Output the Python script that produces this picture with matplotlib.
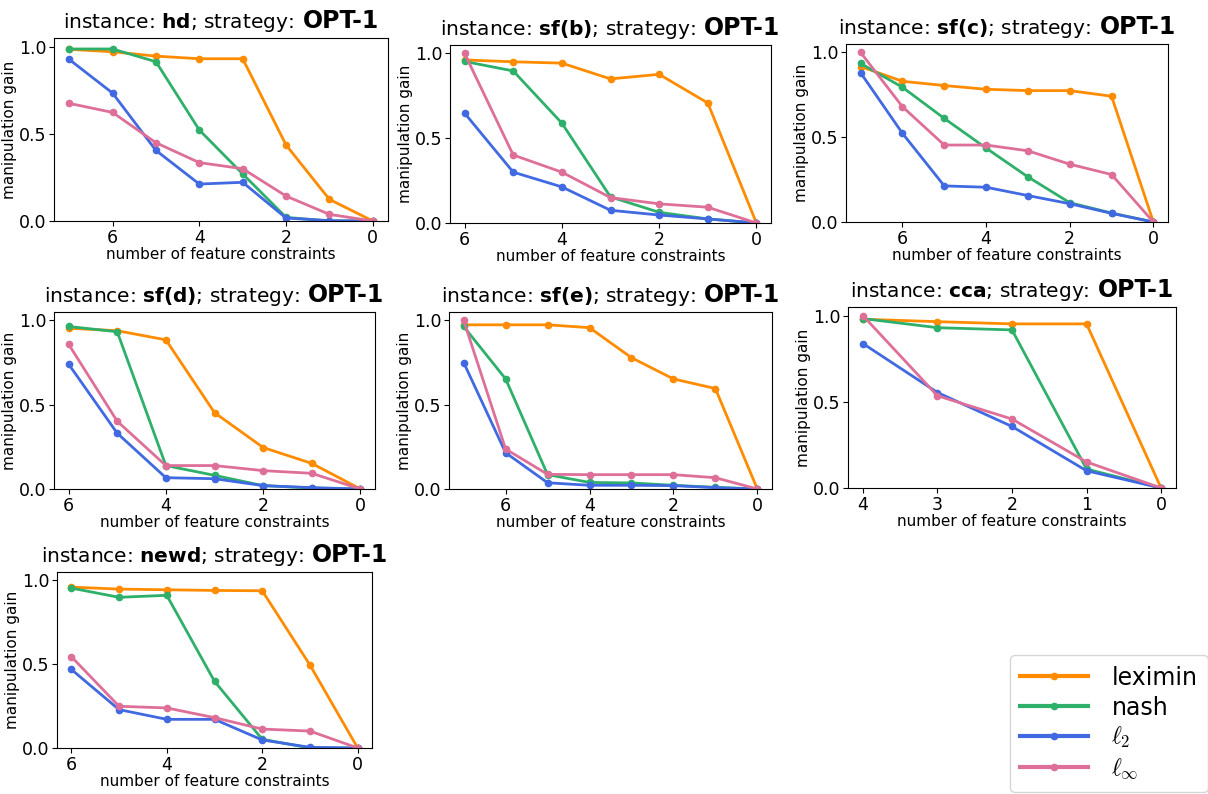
import matplotlib
matplotlib.use('Agg')
import matplotlib.pyplot as plt
from matplotlib.font_manager import FontProperties

# manipulation gain per instance, x runs from max constraints down to 0
hd_x = [7, 6, 5, 4, 3, 2, 1, 0]
hd_leximin = [0.985, 0.971, 0.946, 0.931, 0.931, 0.436, 0.124, 0.0]
hd_nash = [0.987, 0.987, 0.914, 0.522, 0.270, 0.021, 0.0, 0.0]
hd_l2 = [0.927, 0.734, 0.405, 0.212, 0.222, 0.017, 0.002, 0.0]
hd_linf = [0.675, 0.623, 0.449, 0.335, 0.300, 0.143, 0.038, 0.0]

sfb_x = [6, 5, 4, 3, 2, 1, 0]
sfb_leximin = [0.962, 0.951, 0.943, 0.850, 0.877, 0.708, 0.0]
sfb_nash = [0.953, 0.897, 0.589, 0.154, 0.063, 0.024, 0.0]
sfb_l2 = [0.648, 0.300, 0.213, 0.075, 0.047, 0.024, 0.0]
sfb_linf = [1.0, 0.401, 0.300, 0.150, 0.113, 0.093, 0.0]

sfc_x = [7, 6, 5, 4, 3, 2, 1, 0]
sfc_leximin = [0.917, 0.830, 0.805, 0.783, 0.775, 0.775, 0.742, 0.0]
sfc_nash = [0.935, 0.795, 0.611, 0.436, 0.266, 0.114, 0.053, 0.0]
sfc_l2 = [0.880, 0.523, 0.213, 0.205, 0.156, 0.108, 0.051, 0.0]
sfc_linf = [1.0, 0.680, 0.454, 0.454, 0.420, 0.341, 0.280, 0.0]

sfd_x = [6, 5, 4, 3, 2, 1, 0]
sfd_leximin = [0.954, 0.939, 0.885, 0.453, 0.246, 0.152, 0.0]
sfd_nash = [0.964, 0.933, 0.139, 0.081, 0.020, 0.006, 0.0]
sfd_l2 = [0.741, 0.331, 0.067, 0.061, 0.020, 0.008, 0.0]
sfd_linf = [0.859, 0.402, 0.139, 0.139, 0.109, 0.093, 0.0]

sfe_x = [7, 6, 5, 4, 3, 2, 1, 0]
sfe_leximin = [0.974, 0.974, 0.974, 0.957, 0.779, 0.653, 0.596, 0.0]
sfe_nash = [0.964, 0.653, 0.085, 0.039, 0.036, 0.022, 0.010, 0.0]
sfe_l2 = [0.750, 0.215, 0.037, 0.022, 0.022, 0.020, 0.008, 0.0]
sfe_linf = [1.0, 0.237, 0.087, 0.085, 0.085, 0.085, 0.067, 0.0]

cca_x = [4, 3, 2, 1, 0]
cca_leximin = [0.979, 0.965, 0.952, 0.952, 0.0]
cca_nash = [0.983, 0.930, 0.917, 0.110, 0.0]
cca_l2 = [0.838, 0.554, 0.357, 0.100, 0.0]
cca_linf = [1.0, 0.535, 0.400, 0.151, 0.0]

newd_x = [6, 5, 4, 3, 2, 1, 0]
newd_leximin = [0.960, 0.948, 0.944, 0.940, 0.938, 0.495, 0.0]
newd_nash = [0.954, 0.899, 0.911, 0.398, 0.052, 0.0, 0.0]
newd_l2 = [0.469, 0.229, 0.171, 0.171, 0.048, 0.004, 0.0]
newd_linf = [0.545, 0.249, 0.239, 0.181, 0.113, 0.101, 0.0]

names = ['hd', 'sf(b)', 'sf(c)', 'sf(d)', 'sf(e)', 'cca', 'newd']
xs = [hd_x, sfb_x, sfc_x, sfd_x, sfe_x, cca_x, newd_x]
series = [
    [hd_leximin, hd_nash, hd_l2, hd_linf],
    [sfb_leximin, sfb_nash, sfb_l2, sfb_linf],
    [sfc_leximin, sfc_nash, sfc_l2, sfc_linf],
    [sfd_leximin, sfd_nash, sfd_l2, sfd_linf],
    [sfe_leximin, sfe_nash, sfe_l2, sfe_linf],
    [cca_leximin, cca_nash, cca_l2, cca_linf],
    [newd_leximin, newd_nash, newd_l2, newd_linf],
]
labels = ['leximin', 'nash', r'$\ell_2$', r'$\ell_\infty$']
colors = ['#ff8c00', '#2eb06a', '#4169e1', '#de6f98']

W, H = 1208, 794
# axes boxes in pixels: left, right, top, bottom
boxes = [
    (54, 388, 38, 221), (450, 771, 45, 223), (846, 1168, 44, 222),
    (54, 375, 312, 489), (449, 772, 312, 489), (848, 1176, 307, 488),
    (57, 372, 572, 748),
]

fig = plt.figure(figsize=(W / 100, H / 100), dpi=100)

titles = []
handles = []
for name, x, ys, (l, r, t, b) in zip(names, xs, series, boxes):
    ax = fig.add_axes([l / W, 1 - b / H, (r - l) / W, (b - t) / H])
    handles = []
    for y, c, lab in zip(ys, colors, labels):
        h, = ax.plot(x, y, '-o', color=c, lw=2, ms=4.5, label=lab)
        handles.append(h)
    ax.set_ylim(0, 1.05)
    ax.invert_xaxis()
    ax.set_yticks([0, 0.5, 1.0])
    ax.tick_params(labelsize=12.5, pad=2)
    ax.set_xlabel('number of feature constraints', fontsize=11, labelpad=0)
    ax.set_ylabel('manipulation gain', fontsize=11, labelpad=1)
    # title in two pieces so the strategy name can be larger
    t1 = ax.annotate(r'instance: $\mathbf{' + name + r'}$; strategy:',
                     xy=(0.5, 1.0), xycoords='axes fraction',
                     xytext=(0, 7), textcoords='offset points',
                     ha='left', va='baseline', fontsize=14.5)
    t2 = ax.annotate('OPT-1', xy=(0.5, 1.0), xycoords='axes fraction',
                     xytext=(0, 7), textcoords='offset points',
                     ha='left', va='baseline', fontsize=17, fontweight='bold')
    titles.append((t1, t2))

fig.canvas.draw()
renderer = fig.canvas.get_renderer()
gap = 6
for t1, t2 in titles:
    w1 = t1.get_window_extent(renderer).width * 72 / 100
    w2 = t2.get_window_extent(renderer).width * 72 / 100
    start = -(w1 + gap + w2) / 2
    t1.set_position((start, 7))
    t2.set_position((start + w1 + gap, 7))

leg_prop = FontProperties(size=17, math_fontfamily='cm')
leg = fig.legend(handles=handles, labels=labels, loc='lower right',
                 bbox_to_anchor=(1.0, 2 / H), borderaxespad=0,
                 prop=leg_prop, handlelength=2.85, labelspacing=0.25,
                 borderpad=0.45, handletextpad=1.0, fancybox=True)
for lh in leg.get_lines():
    lh.set_linewidth(3)

fig.savefig('out.png', dpi=100)
